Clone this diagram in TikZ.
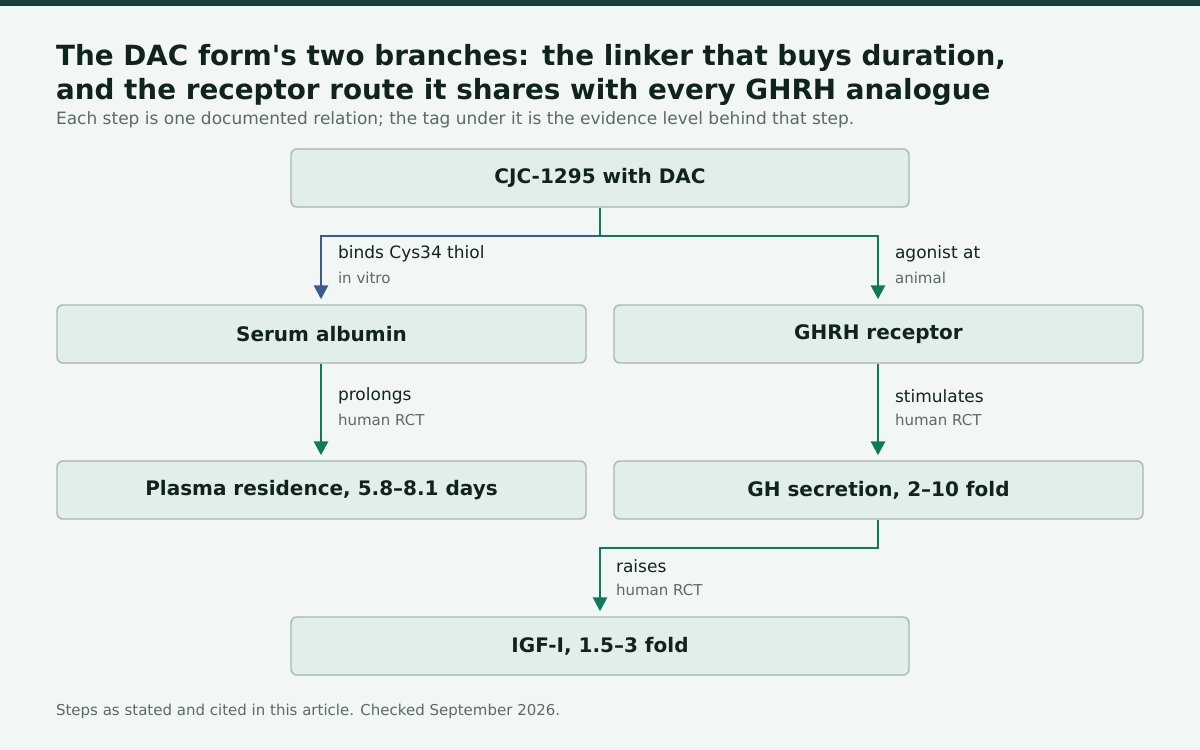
\documentclass[tikz,border=0pt]{standalone}
\usepackage{fontspec}
\setmainfont{DejaVu Sans}[Ligatures=NoCommon]
\usetikzlibrary{positioning,arrows.meta}
\definecolor{bgcol}{HTML}{F2F6F4}
\definecolor{barcol}{HTML}{17403D}
\definecolor{boxfill}{HTML}{E1EEE9}
\definecolor{boxline}{HTML}{A8B8B2}
\definecolor{inkcol}{HTML}{10241F}
\definecolor{greycol}{HTML}{5A6B66}
\definecolor{greenlink}{HTML}{0E7A5A}
\definecolor{bluelink}{HTML}{3B5A91}
\begin{document}
\begin{tikzpicture}[
  x=0.5pt, y=-0.5pt,
  stepnode/.style={rectangle, rounded corners=3pt, draw=boxline, line width=0.7pt, fill=boxfill, minimum height=29pt, text=inkcol, font=\fontsize{10}{12}\selectfont\bfseries},
  widenode/.style={stepnode, minimum width=309pt},
  halfnode/.style={stepnode, minimum width=264.5pt},
  link/.style={line width=1.4pt, draw=greenlink, -{Triangle[length=7pt,width=7pt]}},
  bluelink/.style={link, draw=bluelink},
  verb/.style={anchor=west, text=inkcol, font=\fontsize{8.5}{10}\selectfont},
  tag/.style={anchor=west, text=greycol, font=\fontsize{7.5}{9}\selectfont}
]
\useasboundingbox (0,0) rectangle (1200,750);
\fill[bgcol] (0,0) rectangle (1200,750);
\fill[barcol] (0,0) rectangle (1200,6);

% Heading
\node[anchor=west, text=inkcol, font=\fontsize{13.9}{17}\selectfont\bfseries, align=left] (title) at (49,75)
  {The DAC form\textquotesingle s two branches: the linker that buys duration,\\and the receptor route it shares with every GHRH analogue};
\node[anchor=west, text=greycol, font=\fontsize{8.5}{10}\selectfont] (sub) at (49,120)
  {Each step is one documented relation; the tag under it is the evidence level behind that step.};

% Step nodes
\node[widenode] (cjc) at (600,178) {CJC-1295 with DAC};
\node[halfnode] (alb) at (321.5,334) {Serum albumin};
\node[halfnode] (ghrh) at (878.5,334) {GHRH receptor};
\node[halfnode] (plasma) at (321.5,490) {Plasma residence, 5.8–8.1 days};
\node[halfnode] (gh) at (878.5,490) {GH secretion, 2–10 fold};
\node[widenode] (igf) at (600,646) {IGF-I, 1.5–3 fold};

% Links
\draw[bluelink] (cjc.south) |- (321,236) -- ([yshift=2.5pt]alb.north -| 321,0);
\draw[link] (cjc.south) |- (878,236) -- ([yshift=2.5pt]ghrh.north -| 878,0);
\draw[link] (alb.south -| 321,0) -- ([yshift=2.5pt]plasma.north -| 321,0);
\draw[link] (ghrh.south -| 878,0) -- ([yshift=2.5pt]gh.north -| 878,0);
\draw[link] (gh.south -| 878,0) |- (600,548) -- ([yshift=2.5pt]igf.north);

% Link labels
\node[verb] (v1) at (331,254) {binds Cys34 thiol};
\node[tag] (t1) at (331,278) {in vitro};
\node[verb] (v2) at (888,254) {agonist at};
\node[tag] (t2) at (888,278) {animal};
\node[verb] (v3) at (331,396) {prolongs};
\node[tag] (t3) at (331,420) {human RCT};
\node[verb] (v4) at (888,396) {stimulates};
\node[tag] (t4) at (888,420) {human RCT};
\node[verb] (v5) at (609,566) {raises};
\node[tag] (t5) at (609,590) {human RCT};

% Footer
\node[tag] (foot) at (49,711) {Steps as stated and cited in this article. Checked September 2026.};
\end{tikzpicture}
\end{document}
